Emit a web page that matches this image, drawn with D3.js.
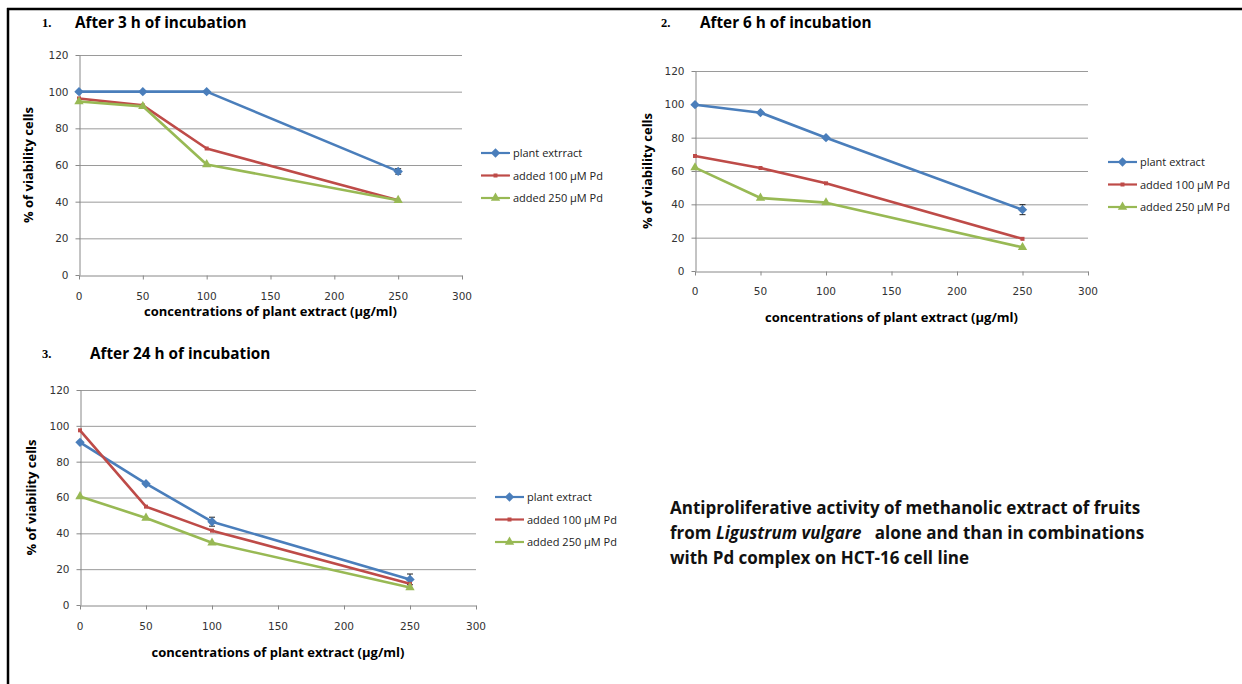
<!DOCTYPE html>
<html>
<head>
<meta charset="utf-8">
<script src="https://cdn.jsdelivr.net/npm/d3@7"></script>
<style>
  body { margin: 0; background: #fff; }
  svg { display: block; }
  .tick-label { font-family: "DejaVu Sans", sans-serif; font-size: 10.5px; fill: #333; }
  .axis-title { font-family: "Open Sans", sans-serif; font-weight: bold; font-size: 13px; fill: #000; }
  .panel-title { font-family: "Open Sans", sans-serif; font-weight: bold; font-size: 15.3px; fill: #000; }
  .panel-num { font-family: "Liberation Serif", serif; font-weight: bold; font-size: 12.5px; fill: #000; }
  .legend-text { font-family: "Open Sans", sans-serif; font-size: 11px; fill: #222; }
  .note { font-family: "Open Sans", sans-serif; font-weight: bold; font-size: 17px; fill: #111; }
</style>
</head>
<body>
<div id="chart"></div>
<script>
// x values (µg/ml) and axis ticks
const concentrations = [0, 50, 100, 250];
const xTicks = [0, 50, 100, 150, 200, 250, 300];
const yTicks = [0, 20, 40, 60, 80, 100, 120];

const legendNames1 = [`plant extrract`, `added 100 µM Pd`, `added 250 µM Pd`];
const legendNames = [`plant extract`, `added 100 µM Pd`, `added 250 µM Pd`];

// After 3 h
const plant3h = [100, 100, 100, 56.5];
const pd100_3h = [96.3, 92.5, 69, 40.8];
const pd250_3h = [94.6, 92, 60.3, 40.8];
const plantErr3h = [0, 0, 0, 1.5];

// After 6 h
const plant6h = [99.8, 95, 80, 36.8];
const pd100_6h = [69, 61.8, 52.6, 19.3];
const pd250_6h = [62, 43.8, 41, 14.2];
const plantErr6h = [0, 0, 0, 3];

// After 24 h
const plant24h = [90.8, 67.7, 46.5, 14.3];
const pd100_24h = [97.5, 54.9, 41.5, 11.8];
const pd250_24h = [60.6, 48.6, 34.7, 9.8];
const plantErr24h = [0, 0, 2.5, 3];

const colors = [`#4a7ebb`, `#be4b48`, `#98b954`];
const shapes = [d3.symbolSquare, d3.symbolSquare, d3.symbolTriangle];
const shapeSize = [44, 16, 38];
const shapeRot = [45, 0, 0];

const svg = d3.select(`#chart`).append(`svg`)
  .attr(`width`, 1242)
  .attr(`height`, 684);

// frame lines (left and top)
svg.append(`line`).attr(`x1`, 8).attr(`x2`, 8).attr(`y1`, 8).attr(`y2`, 684)
  .attr(`stroke`, `#000`).attr(`stroke-width`, 2.5);
svg.append(`line`).attr(`x1`, 7).attr(`x2`, 1242).attr(`y1`, 9).attr(`y2`, 9)
  .attr(`stroke`, `#000`).attr(`stroke-width`, 2.5);

const panels = [
  {
    num: `1.`, title: `After 3 h of incubation`, numX: 42, titleX: 75, titleY: 28,
    x0: 79, x1: 462, yTop: 55, yBot: 275,
    yLabelX: 33, xTickY: 300, xTitleY: 316,
    legendX: 481, legendY: 153, names: legendNames1,
    series: [plant3h, pd100_3h, pd250_3h], err: plantErr3h,
  },
  {
    num: `2.`, title: `After 6 h of incubation`, numX: 661, titleX: 700, titleY: 28,
    x0: 695, x1: 1088, yTop: 71, yBot: 271,
    yLabelX: 652, xTickY: 295, xTitleY: 322,
    legendX: 1108, legendY: 162, names: legendNames,
    series: [plant6h, pd100_6h, pd250_6h], err: plantErr6h,
  },
  {
    num: `3.`, title: `After 24 h of incubation`, numX: 42, titleX: 90, titleY: 359,
    x0: 80, x1: 476, yTop: 390, yBot: 605,
    yLabelX: 36, xTickY: 630, xTitleY: 657,
    legendX: 495, legendY: 497, names: legendNames,
    series: [plant24h, pd100_24h, pd250_24h], err: plantErr24h,
  },
];

const marker = (si) => d3.symbol().type(shapes[si]).size(shapeSize[si]);

panels.forEach(p => {
  const x = d3.scaleLinear().domain([0, 300]).range([p.x0, p.x1]);
  const y = d3.scaleLinear().domain([0, 120]).range([p.yBot, p.yTop]);
  const g = svg.append(`g`);

  g.append(`text`).attr(`class`, `panel-num`).attr(`x`, p.numX).attr(`y`, p.titleY - 1).text(p.num);
  g.append(`text`).attr(`class`, `panel-title`).attr(`x`, p.titleX).attr(`y`, p.titleY).text(p.title);

  // grid lines
  g.selectAll(`.grid`).data(yTicks.filter(d => d > 0)).enter().append(`line`)
    .attr(`x1`, p.x0).attr(`x2`, p.x1)
    .attr(`y1`, d => y(d) + 0.5).attr(`y2`, d => y(d) + 0.5)
    .attr(`stroke`, `#9a9a9a`).attr(`stroke-width`, 1);

  // y axis
  const yAxis = g.append(`g`).attr(`transform`, `translate(${p.x0 + 0.5},0)`)
    .call(d3.axisLeft(y).tickValues(yTicks).tickSize(4).tickSizeOuter(0).tickPadding(7));
  // x axis
  const xAxis = g.append(`g`).attr(`transform`, `translate(0,${p.yBot + 0.5})`)
    .call(d3.axisBottom(x).tickValues(xTicks).tickSize(4).tickSizeOuter(0).tickFormat(``));
  [yAxis, xAxis].forEach(a => {
    a.select(`.domain`).attr(`stroke`, `#888`);
    a.selectAll(`.tick line`).attr(`stroke`, `#888`);
  });
  yAxis.selectAll(`.tick text`).attr(`class`, `tick-label`).attr(`font-family`, null).attr(`font-size`, null);

  g.selectAll(`.xlab`).data(xTicks).enter().append(`text`)
    .attr(`class`, `tick-label`)
    .attr(`x`, d => x(d)).attr(`y`, p.xTickY)
    .attr(`text-anchor`, `middle`)
    .text(d => d);

  g.append(`text`).attr(`class`, `axis-title`)
    .attr(`text-anchor`, `middle`)
    .attr(`x`, (p.x0 + p.x1) / 2).attr(`y`, p.xTitleY)
    .text(`concentrations of plant extract (µg/ml)`);

  g.append(`text`).attr(`class`, `axis-title`)
    .attr(`text-anchor`, `middle`)
    .attr(`transform`, `translate(${p.yLabelX},${(p.yTop + p.yBot) / 2}) rotate(-90)`)
    .text(`% of viability cells`);

  const line = d3.line().x((d, i) => x(concentrations[i])).y(d => y(d));

  p.series.forEach((vals, si) => {
    g.append(`path`).datum(vals)
      .attr(`d`, line)
      .attr(`fill`, `none`)
      .attr(`stroke`, colors[si])
      .attr(`stroke-width`, 2.6)
      .attr(`stroke-linejoin`, `round`);
  });

  // error bars on plant extract
  const errs = p.series[0].map((v, i) => ({v, e: p.err[i], c: concentrations[i]})).filter(d => d.e > 0);
  errs.forEach(d => {
    const eg = g.append(`g`).attr(`stroke`, `#222`).attr(`stroke-width`, 1);
    eg.append(`line`).attr(`x1`, x(d.c)).attr(`x2`, x(d.c)).attr(`y1`, y(d.v - d.e)).attr(`y2`, y(d.v + d.e));
    [d.v - d.e, d.v + d.e].forEach(t => {
      eg.append(`line`).attr(`x1`, x(d.c) - 3).attr(`x2`, x(d.c) + 3).attr(`y1`, y(t)).attr(`y2`, y(t));
    });
  });

  p.series.forEach((vals, si) => {
    g.selectAll(null).data(vals).enter().append(`path`)
      .attr(`d`, marker(si))
      .attr(`transform`, (d, i) => `translate(${x(concentrations[i])},${y(d)}) rotate(${shapeRot[si]})`)
      .attr(`fill`, colors[si]);
  });

  // legend
  p.names.forEach((name, si) => {
    const ly = p.legendY + si * 22.5;
    g.append(`line`).attr(`x1`, p.legendX).attr(`x2`, p.legendX + 29).attr(`y1`, ly).attr(`y2`, ly)
      .attr(`stroke`, colors[si]).attr(`stroke-width`, 2.2);
    g.append(`path`).attr(`d`, marker(si))
      .attr(`transform`, `translate(${p.legendX + 14.5},${ly}) rotate(${shapeRot[si]})`).attr(`fill`, colors[si]);
    g.append(`text`).attr(`class`, `legend-text`).attr(`x`, p.legendX + 32).attr(`y`, ly + 4).text(name);
  });
});

// caption
const note = svg.append(`text`).attr(`class`, `note`);
note.append(`tspan`).attr(`x`, 670).attr(`y`, 514).text(`Antiproliferative activity of methanolic extract of fruits`);
const l2 = note.append(`tspan`).attr(`x`, 670).attr(`y`, 539);
l2.append(`tspan`).text(`from `);
l2.append(`tspan`).attr(`font-style`, `italic`).text(`Ligustrum vulgare`);
l2.append(`tspan`).text(`\u00a0\u00a0 alone and than in combinations`);
note.append(`tspan`).attr(`x`, 670).attr(`y`, 564).text(`with Pd complex on HCT-16 cell line`);
</script>
</body>
</html>
